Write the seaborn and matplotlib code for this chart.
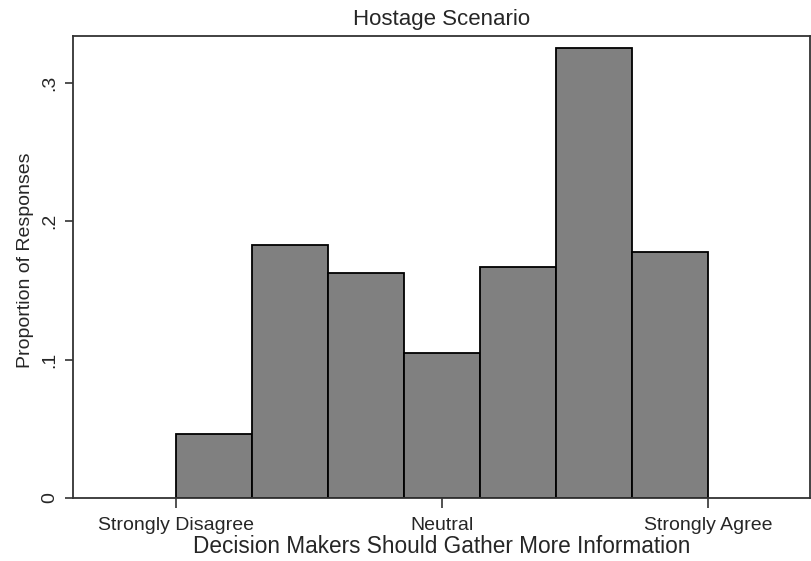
import matplotlib
matplotlib.use("Agg")
import matplotlib.pyplot as plt
import seaborn as sns
import numpy as np
import pandas as pd

# Response scale (1 = Strongly Disagree ... 7 = Strongly Agree), seven equal bins
bin_edges = np.linspace(1, 7, 8)
bin_centers = (bin_edges[:-1] + bin_edges[1:]) / 2
proportions = [0.0462, 0.1827, 0.1625, 0.1047, 0.1668, 0.3250, 0.1776]

x_tick_values = [1, 4, 7]
x_tick_labels = ["Strongly Disagree", "Neutral", "Strongly Agree"]
y_tick_values = [0, 0.1, 0.2, 0.3]
y_tick_labels = ["0", ".1", ".2", ".3"]

responses = pd.DataFrame({"response": bin_centers, "proportion": proportions})

sns.set_theme(style="white")
plt.rcParams["font.family"] = ["Liberation Sans", "DejaVu Sans"]

fig = plt.figure(figsize=(8.11, 5.61), dpi=100)
ax = fig.add_axes([0.090, 0.1123, 0.909, 0.8235])

sns.histplot(data=responses, x="response", weights="proportion", bins=list(bin_edges),
             stat="count", color="#808080", alpha=1.0, edgecolor="black",
             linewidth=1.3, ax=ax)

ax.set_xlim(-0.165, 8.15)
ax.set_ylim(0, 0.3336)

ax.set_xticks(x_tick_values)
ax.set_xticklabels(x_tick_labels, fontsize=14)
ax.set_yticks(y_tick_values)
ax.set_yticklabels(y_tick_labels, fontsize=14, rotation=90, va="center")

ax.tick_params(axis="both", which="major", direction="out", width=1.2,
               color="#333333", bottom=True, left=True)
ax.tick_params(axis="x", length=7, pad=7)
ax.tick_params(axis="y", length=6, pad=4.5)

for spine in ax.spines.values():
    spine.set_visible(True)
    spine.set_color("#333333")
    spine.set_linewidth(1.3)

ax.set_title("Hostage Scenario", fontsize=16, pad=8)

ax.set_xlabel("Decision Makers Should Gather More Information", fontsize=16.3)
ax.xaxis.label.set_va("baseline")
ax.xaxis.set_label_coords(0.5, -0.119)

ax.set_ylabel("Proportion of Responses", fontsize=14)
ax.yaxis.label.set_va("baseline")
ax.yaxis.set_label_coords(-0.0583, 0.515)

fig.savefig("out.png", dpi=100)
